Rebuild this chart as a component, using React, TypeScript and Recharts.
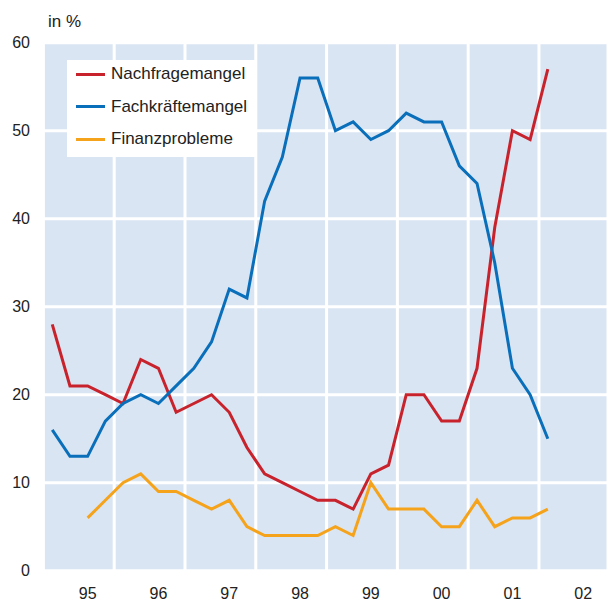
import { LineChart, Line, XAxis, YAxis, CartesianGrid } from 'recharts';

// quarterly survey shares, 95 Q1 .. 02 Q1
const years = ['95', '96', '97', '98', '99', '00', '01', '02'];
const nachfrage = [28, 21, 21, 20, 19, 24, 23, 18, 19, 20, 18, 14, 11, 10, 9, 8, 8, 7, 11, 12, 20, 20, 17, 17, 23, 39, 50, 49, 57];
const fachkraefte = [16, 13, 13, 17, 19, 20, 19, 21, 23, 26, 32, 31, 42, 47, 56, 56, 50, 51, 49, 50, 52, 51, 51, 46, 44, 35, 23, 20, 15];
const finanz: (number | null)[] = [null, null, 6, 8, 10, 11, 9, 9, 8, 7, 8, 5, 4, 4, 4, 4, 5, 4, 10, 7, 7, 7, 5, 5, 8, 5, 6, 6, 7];
const yTicks = [0, 10, 20, 30, 40, 50, 60];

const SERIES = [
    { key: 'nachfrage', name: 'Nachfragemangel', color: '#c8232c' },
    { key: 'fachkraefte', name: 'Fachkräftemangel', color: '#0a6fba' },
    { key: 'finanz', name: 'Finanzprobleme', color: '#f6a31c' },
];

const data = nachfrage.map((v, i) => ({
    q: i,
    nachfrage: v,
    fachkraefte: fachkraefte[i],
    finanz: finanz[i],
}));

const labelTicks = years.map((_, i) => i * 4 + 2);
const gridTicks = years.map((_, i) => i * 4 - 0.5);
const DOMAIN: [number, number] = [-0.5, 31.4];
const FONT = 'Liberation Sans, Arial, sans-serif';

const LegendBox = () => (
    <div style={{ position: 'absolute', left: 67, top: 60, width: 188, height: 97, background: '#fff' }}>
        {SERIES.map((s, i) => (
            <div key={s.key} style={{ position: 'absolute', left: 9, top: 4 + i * 32.5, height: 20, display: 'flex', alignItems: 'center' }}>
                <span style={{ display: 'inline-block', width: 29, height: 3, background: s.color }} />
                <span style={{ marginLeft: 6, fontSize: 17, color: '#222', fontFamily: FONT, whiteSpace: 'nowrap' }}>{s.name}</span>
            </div>
        ))}
    </div>
);

export default function App() {
    return (
        <div style={{ position: 'absolute', left: 0, top: 0, width: 608, height: 601, overflow: 'hidden', background: '#fff' }}>
            <div style={{ position: 'absolute', left: 48, top: 12, fontSize: 17, color: '#222', fontFamily: FONT }}>in %</div>
            <LineChart width={608} height={601} data={data} margin={{ top: 42.7, right: 0, bottom: 0, left: 0 }}>
                <CartesianGrid
                    xAxisId="grid"
                    fill="#dae5f3"
                    stroke="#fff"
                    strokeWidth={3}
                />
                <XAxis
                    xAxisId="grid"
                    dataKey="q"
                    type="number"
                    domain={DOMAIN}
                    ticks={gridTicks}
                    hide
                />
                <XAxis
                    dataKey="q"
                    type="number"
                    domain={DOMAIN}
                    ticks={labelTicks}
                    tickFormatter={(v: number) => years[(v - 2) / 4]}
                    axisLine={false}
                    tickLine={false}
                    tickSize={0}
                    tickMargin={17}
                    height={30.3}
                    interval={0}
                    tick={{ fill: '#222', fontSize: 16, fontFamily: FONT }}
                />
                <YAxis
                    domain={[0, 60]}
                    ticks={yTicks}
                    axisLine={false}
                    tickLine={false}
                    tickSize={0}
                    tickMargin={13.4}
                    width={43.4}
                    interval={0}
                    tick={{ fill: '#222', fontSize: 16, fontFamily: FONT }}
                />
                {SERIES.map((s) => (
                    <Line
                        key={s.key}
                        dataKey={s.key}
                        name={s.name}
                        stroke={s.color}
                        strokeWidth={3}
                        dot={false}
                        activeDot={false}
                        type="linear"
                        isAnimationActive={false}
                    />
                ))}
            </LineChart>
            <LegendBox />
        </div>
    );
}
